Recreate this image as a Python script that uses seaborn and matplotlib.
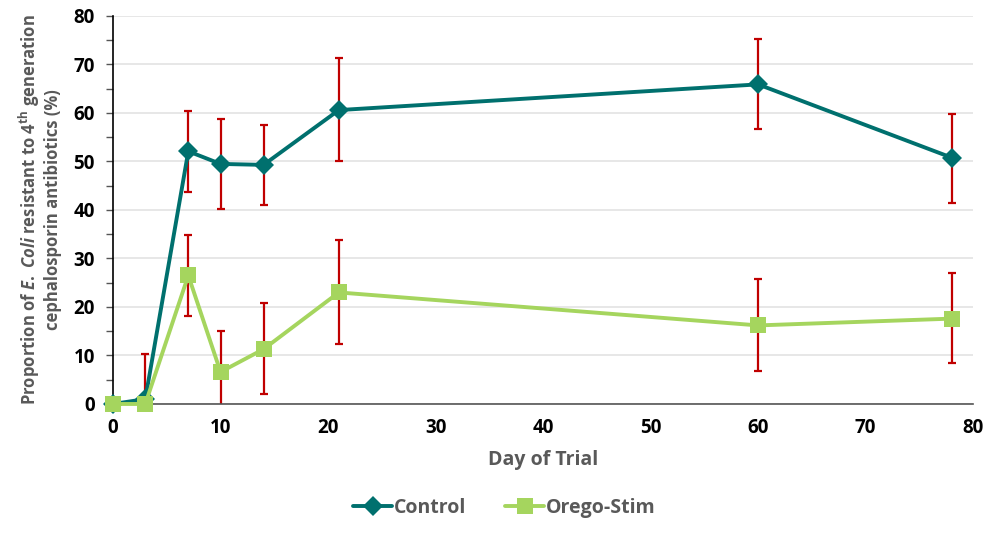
import pandas as pd
import numpy as np
import matplotlib
matplotlib.use("Agg")
import matplotlib.pyplot as plt
import seaborn as sns

# data
days = [0, 3, 7, 10, 14, 21, 60, 78]
control = [0, 1.0, 52.1, 49.5, 49.3, 60.6, 65.9, 50.8]
orego = [0, 0, 26.5, 6.6, 11.3, 23.0, 16.2, 17.6]

# error bar bounds (low, high); None = no bar
control_low = [None, None, 43.8, 40.3, 41.0, 50.0, 56.6, 41.4]
control_high = [None, None, 60.4, 58.7, 57.5, 71.3, 75.3, 59.8]
orego_low = [None, -10.3, 18.2, -1.9, 2.0, 12.4, 6.9, 8.4]
orego_high = [None, 10.3, 34.8, 15.1, 20.8, 33.8, 25.7, 27.0]

series_names = ["Control", "Orego-Stim"]
teal = "#00706E"
green = "#A5D55E"
red = "#C00000"

sns.set_theme(style="white")
plt.rcParams['font.family'] = ['Open Sans', 'DejaVu Sans']
plt.rcParams['mathtext.fontset'] = 'custom'
plt.rcParams['mathtext.rm'] = 'Open Sans:bold'
plt.rcParams['mathtext.it'] = 'Open Sans:italic:bold'

df = pd.DataFrame({
    "Day": days * 2,
    "Value": control + orego,
    "Series": [series_names[0]] * len(days) + [series_names[1]] * len(days),
})

fig = plt.figure(figsize=(10.03, 5.35), dpi=100)
ax = fig.add_axes([0.1127, 0.2449, 0.8575, 0.7252])

# error bars first so markers sit on top
for lows, highs, vals in [(control_low, control_high, control), (orego_low, orego_high, orego)]:
    for d, lo, hi, v in zip(days, lows, highs, vals):
        if lo is None:
            continue
        ax.errorbar(d, v, yerr=[[v - lo], [hi - v]], fmt="none", ecolor=red,
                    elinewidth=1.6, capsize=3, capthick=1.6, zorder=2)

n_before = len(ax.get_lines())
sns.lineplot(data=df, x="Day", y="Value", hue="Series", style="Series",
             palette={series_names[0]: teal, series_names[1]: green},
             markers={series_names[0]: "D", series_names[1]: "s"},
             dashes=False, linewidth=2.8, markersize=10, markeredgewidth=0,
             ax=ax, zorder=3, legend=True)
# make squares a bit bigger than diamonds, let markers spill over the axes edge
for line in ax.get_lines()[n_before:]:
    line.set_clip_on(False)
    if line.get_marker() == "s":
        line.set_markersize(12)

ax.set_xlim(0, 80)
ax.set_ylim(0, 80)
ax.set_xticks(range(0, 81, 10))
ax.set_yticks(range(0, 81, 10))
ax.set_yticks(range(5, 80, 10), minor=True)
ax.tick_params(axis="both", labelsize=13.5, colors="black")
ax.tick_params(axis="y", which="both", direction="out", length=5, width=1, color="#555555", left=True, pad=8)
ax.tick_params(axis="x", length=0, pad=10)
for lab in ax.get_xticklabels() + ax.get_yticklabels():
    lab.set_fontweight("bold")

ax.grid(axis="y", color="#E3E3E3", linewidth=1.2)
ax.set_axisbelow(True)
for s in ["top", "right"]:
    ax.spines[s].set_visible(False)
ax.spines["left"].set_color("black")
ax.spines["left"].set_linewidth(1.2)
ax.spines["bottom"].set_color("#555555")
ax.spines["bottom"].set_linewidth(1.2)

ax.set_xlabel("Day of Trial", fontsize=14, fontweight="bold", color="#595959", labelpad=9)
ax.set_ylabel("Proportion of $\\it{E.\\ Coli}$ resistant to 4$^{\\rm th}$ generation\ncephalosporin antibiotics (%)",
              fontsize=12, fontweight="bold", color="#595959", labelpad=8, linespacing=1.15)

handles, labels = ax.get_legend_handles_labels()
ax.get_legend().remove()
leg = fig.legend(handles, labels, loc="center", bbox_to_anchor=(0.503, 0.05), ncol=2,
                 frameon=False, handlelength=2.0, handletextpad=0.1,
                 columnspacing=2.0, prop={"weight": "bold", "size": 14})
for t in leg.get_texts():
    t.set_color("#595959")

fig.savefig("out.png", dpi=100)
